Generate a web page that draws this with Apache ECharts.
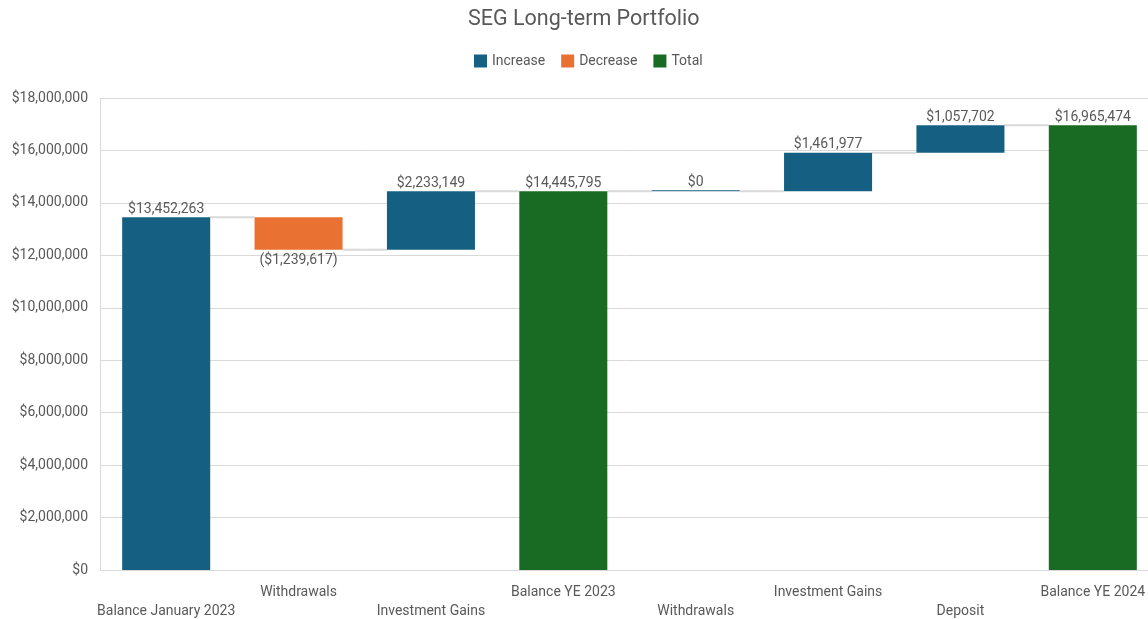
<!DOCTYPE html>
<html>
<head>
<meta charset="utf-8">
<script src="https://cdn.jsdelivr.net/npm/echarts@6/dist/echarts.min.js"></script>
<style>
  html, body { margin: 0; padding: 0; background: #fff; }
  #chart { width: 1148px; height: 619px; }
</style>
</head>
<body>
<div id="chart"></div>
<script>
const categories = [
  "Balance January 2023", "Withdrawals", "Investment Gains", "Balance YE 2023",
  "Withdrawals", "Investment Gains", "Deposit", "Balance YE 2024"
];
// signed change per step; totals marked separately
const changes = [13452263, -1239617, 2233149, null, 0, 1461977, 1057702, null];
const totals = [null, null, null, 14445795, null, null, null, 16965474];
const yTicks = { min: 0, max: 18000000, interval: 2000000 };

const fmt = (v) => "$" + Math.abs(v).toLocaleString("en-US");

// build stacked pieces from the values
const base = [], inc = [], dec = [], tot = [], levels = [];
let running = 0;
categories.forEach((c, i) => {
  if (totals[i] != null) {
    running = totals[i];
    base.push(0); inc.push("-"); dec.push("-"); tot.push(totals[i]);
  } else if (changes[i] >= 0) {
    base.push(running); inc.push(changes[i]); dec.push("-"); tot.push("-");
    running += changes[i];
  } else {
    running += changes[i];
    base.push(running); inc.push("-"); dec.push(-changes[i]); tot.push("-");
  }
  levels.push(running);
});
const connectors = levels.slice(0, -1).map((v, i) => [i, v]);

const chart = echarts.init(document.getElementById("chart"));
const labelStyle = { show: true, fontSize: 14, color: "#595959", fontFamily: "Roboto" };

chart.setOption({
  animation: false,
  textStyle: { fontFamily: "Roboto" },
  title: {
    text: "SEG Long-term Portfolio",
    left: 463,
    top: 4,
    textStyle: { fontSize: 21.5, fontWeight: "normal", color: "#595959", fontFamily: "Roboto" },
  },
  legend: {
    top: 49,
    left: 469,
    icon: "rect",
    itemWidth: 13,
    itemHeight: 13,
    itemGap: 16,
    data: ["Increase", "Decrease", "Total"],
    textStyle: { fontSize: 14, color: "#595959" },
  },
  grid: { left: 100, width: 1059, top: 98, bottom: 49, outerBoundsMode: "none" },
  xAxis: {
    type: "category",
    data: categories,
    axisTick: { show: false },
    axisLine: { lineStyle: { color: "#d9d9d9", width: 1 } },
    axisLabel: {
      interval: 0,
      fontSize: 14,
      color: "#595959",
      lineHeight: 19,
      margin: 13,
      formatter: (v, i) => (i % 2 === 0 ? "\n" + v : v),
    },
  },
  yAxis: {
    type: "value",
    min: yTicks.min,
    max: yTicks.max,
    interval: yTicks.interval,
    axisLine: { show: true, lineStyle: { color: "#d9d9d9" } },
    splitLine: { lineStyle: { color: "#d9d9d9" } },
    axisLabel: { fontSize: 14, color: "#595959", margin: 12, formatter: (v) => fmt(v) },
  },
  series: [
    {
      name: "base", type: "bar", stack: "wf", data: base, barWidth: "66.5%",
      itemStyle: { color: "transparent" }, silent: true,
    },
    {
      name: "Increase", type: "bar", stack: "wf", data: inc, barMinHeight: 1,
      itemStyle: { color: "#156082" },
      label: { ...labelStyle, position: "top", distance: 1, formatter: (p) => fmt(p.value) },
    },
    {
      name: "Decrease", type: "bar", stack: "wf", data: dec,
      itemStyle: { color: "#E97132" },
      label: { ...labelStyle, position: "bottom", distance: 4, formatter: (p) => "(" + fmt(p.value) + ")" },
    },
    {
      name: "Total", type: "bar", stack: "wf", data: tot,
      itemStyle: { color: "#196B24" },
      label: { ...labelStyle, position: "top", distance: 1, formatter: (p) => fmt(p.value) },
    },
    {
      name: "connectors", type: "custom", data: connectors, silent: true, z: 1,
      renderItem: (params, api) => {
        const i = api.value(0);
        const a = api.coord([i, api.value(1)]);
        const b = api.coord([i + 1, api.value(1)]);
        const half = api.size([1, 0])[0] * 0.665 / 2;
        return {
          type: "line",
          shape: { x1: a[0] + half, y1: a[1], x2: b[0] - half, y2: b[1] },
          style: { stroke: "#d9d9d9", lineWidth: 2 },
        };
      },
    },
  ],
});
</script>
</body>
</html>
